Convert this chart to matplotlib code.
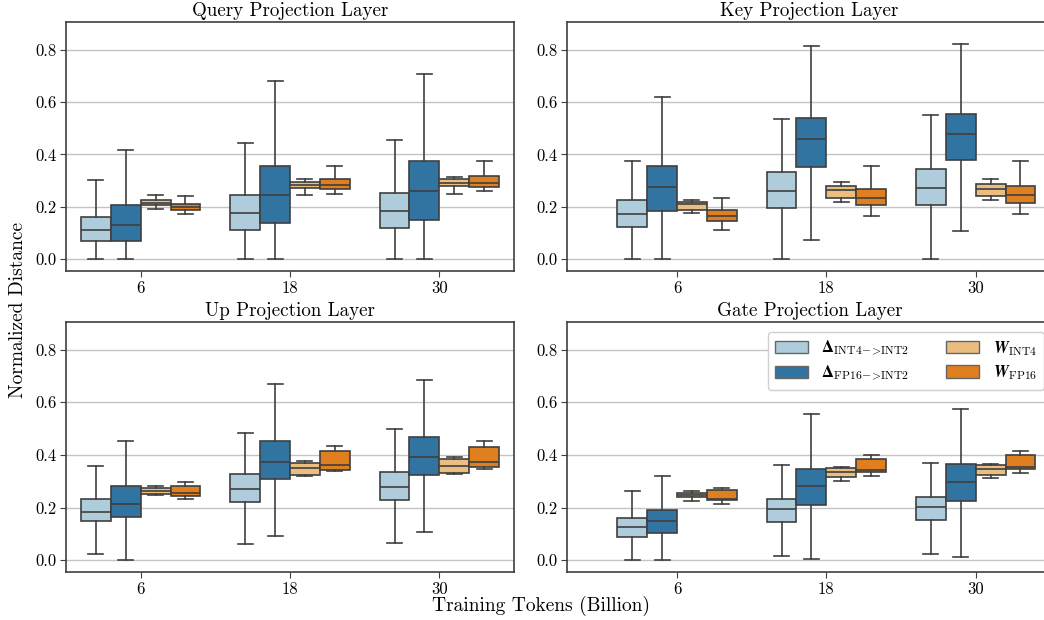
import matplotlib
matplotlib.use("Agg")
import matplotlib.pyplot as plt
from matplotlib.patches import Patch
import seaborn as sns

# token counts (billion) on the x axis
tokens = ["6", "18", "30"]
layer_titles = ["Query Projection Layer", "Key Projection Layer",
                "Up Projection Layer", "Gate Projection Layer"]
series_labels = [r"$\boldsymbol{\Delta}_{\mathrm{INT4}\!-\!\!\mathsf{>}\!\mathrm{INT2}}$",
                 r"$\boldsymbol{\Delta}_{\mathrm{FP16}\!-\!\!\mathsf{>}\!\mathrm{INT2}}$",
                 r"$\boldsymbol{W}_{\mathrm{INT4}}$",
                 r"$\boldsymbol{W}_{\mathrm{FP16}}$"]

# five-number summaries per token count: [whislo, q1, med, q3, whishi]
query_d_int4 = [[0.0, 0.068, 0.111, 0.162, 0.301], [0.0, 0.111, 0.178, 0.244, 0.442], [0.0, 0.118, 0.185, 0.254, 0.455]]
query_d_fp16 = [[0.0, 0.070, 0.131, 0.207, 0.415], [0.0, 0.140, 0.246, 0.357, 0.680], [0.0, 0.150, 0.262, 0.375, 0.707]]
query_w_int4 = [[0.193, 0.205, 0.214, 0.224, 0.246], [0.245, 0.272, 0.284, 0.295, 0.305], [0.249, 0.281, 0.292, 0.305, 0.315]]
query_w_fp16 = [[0.174, 0.187, 0.200, 0.212, 0.241], [0.249, 0.267, 0.282, 0.306, 0.357], [0.259, 0.276, 0.292, 0.316, 0.373]]

key_d_int4 = [[0.0, 0.123, 0.171, 0.225, 0.376], [0.0, 0.196, 0.259, 0.331, 0.535], [0.0, 0.207, 0.273, 0.345, 0.550]]
key_d_fp16 = [[0.0, 0.183, 0.274, 0.357, 0.617], [0.075, 0.353, 0.457, 0.538, 0.814], [0.109, 0.377, 0.476, 0.554, 0.820]]
key_w_int4 = [[0.175, 0.189, 0.212, 0.218, 0.226], [0.220, 0.235, 0.263, 0.279, 0.295], [0.226, 0.241, 0.269, 0.288, 0.306]]
key_w_fp16 = [[0.112, 0.146, 0.165, 0.187, 0.235], [0.164, 0.206, 0.235, 0.268, 0.357], [0.171, 0.215, 0.244, 0.281, 0.375]]

up_d_int4 = [[0.022, 0.148, 0.184, 0.231, 0.358], [0.063, 0.222, 0.270, 0.326, 0.485], [0.067, 0.228, 0.279, 0.336, 0.499]]
up_d_fp16 = [[0.0, 0.164, 0.213, 0.280, 0.454], [0.090, 0.307, 0.373, 0.452, 0.670], [0.108, 0.324, 0.392, 0.467, 0.685]]
up_w_int4 = [[0.247, 0.251, 0.264, 0.273, 0.282], [0.320, 0.324, 0.349, 0.371, 0.377], [0.327, 0.331, 0.359, 0.383, 0.391]]
up_w_fp16 = [[0.234, 0.242, 0.254, 0.282, 0.296], [0.339, 0.343, 0.362, 0.414, 0.434], [0.348, 0.354, 0.374, 0.431, 0.454]]

gate_d_int4 = [[0.0, 0.089, 0.126, 0.159, 0.264], [0.016, 0.146, 0.193, 0.233, 0.363], [0.024, 0.154, 0.202, 0.241, 0.371]]
gate_d_fp16 = [[0.0, 0.104, 0.147, 0.192, 0.320], [0.003, 0.208, 0.280, 0.346, 0.555], [0.011, 0.223, 0.296, 0.364, 0.574]]
gate_w_int4 = [[0.226, 0.239, 0.247, 0.256, 0.263], [0.301, 0.315, 0.336, 0.352, 0.355], [0.311, 0.325, 0.346, 0.362, 0.367]]
gate_w_fp16 = [[0.214, 0.228, 0.233, 0.265, 0.275], [0.320, 0.334, 0.343, 0.386, 0.400], [0.332, 0.346, 0.355, 0.401, 0.415]]

panels = [
    [query_d_int4, query_d_fp16, query_w_int4, query_w_fp16],
    [key_d_int4, key_d_fp16, key_w_int4, key_w_fp16],
    [up_d_int4, up_d_fp16, up_w_int4, up_w_fp16],
    [gate_d_int4, gate_d_fp16, gate_w_int4, gate_w_fp16],
]

plt.rcParams["font.family"] = "serif"
plt.rcParams["font.serif"] = ["cmr10", "DejaVu Serif"]
# custom math fonts so the Greek Delta can be bold
plt.rcParams["mathtext.fontset"] = "custom"
plt.rcParams["mathtext.rm"] = "cmr10"
plt.rcParams["mathtext.it"] = "cmmi10"
plt.rcParams["mathtext.sf"] = "cmmi10"
plt.rcParams["mathtext.bf"] = "STIXGeneral:bold"
plt.rcParams["mathtext.bfit"] = "STIXGeneral:italic:bold"
plt.rcParams["mathtext.fallback"] = "cm"
plt.rcParams["axes.formatter.use_mathtext"] = True

pal = sns.color_palette("Paired")
colors = [sns.desaturate(c, 0.75) for c in [pal[0], pal[1], pal[6], pal[7]]]
line_col = "#3f3f3f"

W, H = 1044, 620
fig = plt.figure(figsize=(W / 100, H / 100), dpi=100)

# axes boxes in pixels: (left, top, right, bottom); right column runs past the edge
boxes = [(66, 22, 514, 271), (567, 22, 1052, 271),
         (66, 322, 514, 572), (567, 322, 1052, 572)]
px_per_unit = 448 / 3.0
offsets = [-0.3, -0.1, 0.1, 0.3]

axes = []
for k, (l, t, r, b) in enumerate(boxes):
    ax = fig.add_axes([l / W, 1 - b / H, (r - l) / W, (b - t) / H])
    for s, series in enumerate(panels[k]):
        stats = []
        for stat in series:
            lo, q1, med, q3, hi = stat
            stats.append(dict(whislo=lo, q1=q1, med=med, q3=q3, whishi=hi, fliers=[]))
        pos = [i + offsets[s] for i in range(len(tokens))]
        ax.bxp(stats, positions=pos, widths=0.2, patch_artist=True, showfliers=False,
               boxprops=dict(facecolor=colors[s], edgecolor=line_col, linewidth=1.2),
               medianprops=dict(color=line_col, linewidth=1.2),
               whiskerprops=dict(color=line_col, linewidth=1.2),
               capprops=dict(color=line_col, linewidth=1.2), capwidths=0.1)
    x0 = -0.5 if l < 300 else -(677 - l) / px_per_unit
    ax.set_xlim(x0, x0 + (r - l) / px_per_unit)
    ax.set_ylim(-0.045, 0.905)
    ax.set_xticks(range(len(tokens)))
    ax.set_xticklabels(tokens)
    ax.set_yticks([0.0, 0.2, 0.4, 0.6, 0.8])
    ax.set_yticklabels(["0.0", "0.2", "0.4", "0.6", "0.8"])
    ax.yaxis.grid(True, color="#c4c4c4", linewidth=1.0)
    ax.set_axisbelow(True)
    ax.tick_params(labelsize=12, length=4, color=line_col, pad=3)
    for sp in ax.spines.values():
        sp.set_color(line_col)
        sp.set_linewidth(1.2)
    ax.set_title(layer_titles[k], fontsize=13.7, pad=4)
    axes.append(ax)

handles = [Patch(facecolor=colors[s], edgecolor="#666666", label=series_labels[s]) for s in range(4)]
lw_ax = boxes[3][2] - boxes[3][0]
axes[3].legend(handles=handles, loc="upper left", ncol=2, fontsize=12,
               bbox_to_anchor=((768 - 567) / lw_ax, 1 - 10 / 250), borderaxespad=0,
               handlelength=2.0, handleheight=0.8, columnspacing=2.2, labelspacing=0.35,
               framealpha=1, edgecolor="#d0d0d0")

fig.text(0.017, 0.5, "Normalized Distance", rotation=90, va="center", ha="center", fontsize=14)
fig.text(0.518, 1 - 596 / H, "Training Tokens (Billion)", va="top", ha="center", fontsize=14)

fig.savefig("out.png", dpi=100)
